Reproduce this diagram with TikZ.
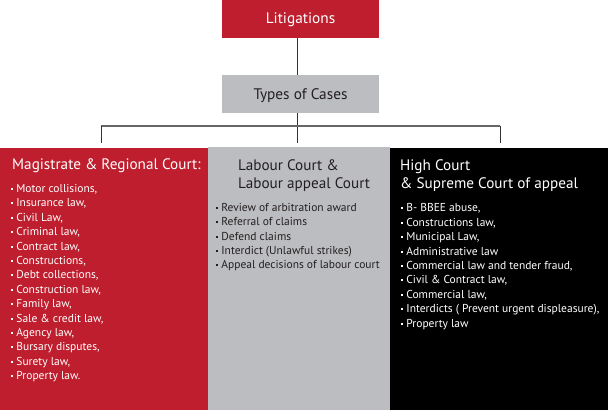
\documentclass[tikz,border=0pt]{standalone}
\usepackage{fontspec}
\setmainfont{PT Sans}
\usepackage{xcolor}
\usetikzlibrary{positioning}
\definecolor{courtred}{HTML}{BE1E2D}
\definecolor{courtgray}{HTML}{BCBDC0}
\definecolor{inkdark}{HTML}{231F20}
\newcommand{\bul}{\raisebox{0.45ex}{\rule{2pt}{2pt}}\hspace{3.2pt}}

\begin{document}
\begin{tikzpicture}[x=1pt, y=-1pt,
  topbox/.style={fill=#1, minimum width=157pt, minimum height=38pt, inner sep=0pt, text depth=0pt, font=\fontsize{15.3}{17}\selectfont},
  panel/.style={fill=#1, inner sep=0pt, outer sep=0pt, anchor=north west},
  heading/.style={anchor=west, align=left, inner sep=0pt, font=\fontsize{15.2}{18}\selectfont},
  items/.style={anchor=north west, align=left, inner sep=0pt, font=\fontsize{11.5}{14.4}\selectfont},
  link/.style={draw=black!80, line width=0.9pt}
]
  \useasboundingbox (0,0) rectangle (608,410);

  \node[topbox=courtred, text=white] (lit) at (300.5,18.5) {Litigations};
  \node[topbox=courtgray, text=inkdark] (types) at (300.5,94) {Types of Cases};

  \node[panel=courtred, minimum width=208pt, minimum height=262pt] (mag) at (0,148) {};
  \node[panel=courtgray, minimum width=182pt, minimum height=263pt] (lab) at (208,147) {};
  \node[panel=black, minimum width=218pt, minimum height=262pt] (high) at (390,148) {};

  \coordinate (hub) at (297,126);
  \coordinate (left) at (101,126);
  \coordinate (right) at (500,126);
  \coordinate (leftend) at (101,143);
  \coordinate (midend) at (297,143);
  \coordinate (rightend) at (500,143);

  \draw[link] (lit.south -| hub) -- (types.north -| hub);
  \draw[link] (types.south -| hub) -- (midend);
  \draw[link, draw=black!60, line width=1.1pt] (left) -- (right);
  \draw[link] (left) -- (leftend);
  \draw[link] (right) -- (rightend);

  \node[heading, text=white] (magtitle) at (12,166) {Magistrate \& Regional Court:};
  \node[items, text=white] (magitems) at (11,184.2) {\bul Motor collisions,\\ \bul Insurance law,\\ \bul Civil Law,\\ \bul Criminal law,\\ \bul Contract law,\\ \bul Constructions,\\ \bul Debt collections,\\ \bul Construction law,\\ \bul Family law,\\ \bul Sale \& credit law,\\ \bul Agency law,\\ \bul Bursary disputes,\\ \bul Surety law,\\ \bul Property law.};

  \node[heading, text=inkdark] (labtitle) at (238,176) {Labour Court \&\\Labour appeal Court};
  \node[items, text=inkdark] (labitems) at (216,203) {\bul Review of arbitration award\\ \bul Referral of claims\\ \bul Defend claims\\ \bul Interdict (Unlawful strikes)\\ \bul Appeal decisions of labour court};

  \node[heading, text=white] (hightitle) at (400,176) {High Court\\\& Supreme Court of appeal};
  \node[items, text=white] (highitems) at (401,203.6) {\bul B- BBEE abuse,\\ \bul Constructions law,\\ \bul Municipal Law,\\ \bul Administrative law\\ \bul Commercial law and tender fraud,\\ \bul Civil \& Contract law,\\ \bul Commercial law,\\ \bul Interdicts ( Prevent urgent displeasure),\\ \bul Property law};
\end{tikzpicture}
\end{document}
